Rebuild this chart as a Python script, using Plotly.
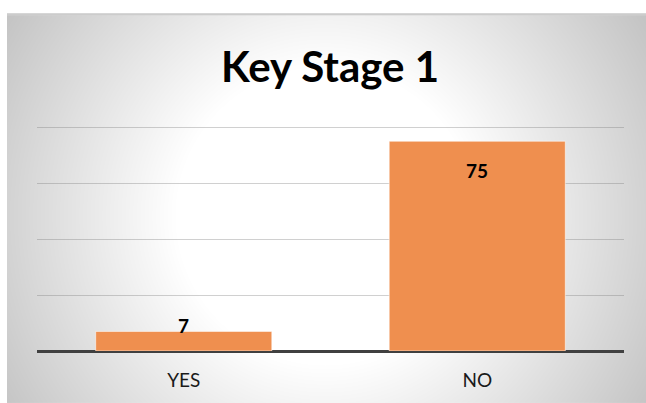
import base64
import struct
import zlib

import numpy as np
import plotly.graph_objects as go

# ---- data ----
categories = ["YES", "NO"]
counts = [7, 75]
title_text = "Key Stage 1"

# ---- page geometry (pixels) ----
FIG_W, FIG_H = 646, 403
Y_MAX_GRID = 80            # last labelled gridline
Y_TOP = 80.8               # a little headroom so the top gridline is not clipped
PX_PER_UNIT = 2.8
M_L, M_R, M_B = 37, 22, 52
PLOT_H = Y_TOP * PX_PER_UNIT
M_T = FIG_H - M_B - PLOT_H
PLOT_W = FIG_W - M_L - M_R

# panel with soft radial shading behind the chart
PANEL_X0, PANEL_Y0 = 7, 13


def radial_panel_png(w, h):
    ys, xs = np.mgrid[0:h, 0:w]
    px = xs + PANEL_X0
    py = ys + PANEL_Y0
    d = np.hypot(px - 325.0, py - 215.0)
    val = 255.0 - np.clip((d - 150.0) * 0.26, 0, 64)
    img = val.astype(np.uint8)
    img[0, :] = 192          # thin top edge of the panel
    img[1, :] = 212
    raw = b"".join(b"\x00" + img[r].tobytes() for r in range(h))

    def chunk(tag, data):
        c = tag + data
        return struct.pack(">I", len(data)) + c + struct.pack(">I", zlib.crc32(c) & 0xFFFFFFFF)

    png = b"\x89PNG\r\n\x1a\n"
    png += chunk(b"IHDR", struct.pack(">IIBBBBB", w, h, 8, 0, 0, 0, 0))
    png += chunk(b"IDAT", zlib.compress(raw, 9))
    png += chunk(b"IEND", b"")
    return "data:image/png;base64," + base64.b64encode(png).decode()


panel_w = FIG_W - PANEL_X0
panel_h = FIG_H - PANEL_Y0
panel_src = radial_panel_png(panel_w, panel_h)


def to_paper_x(px):
    return (px - M_L) / PLOT_W


def to_paper_y(py):
    return (FIG_H - M_B - py) / PLOT_H


fig = go.Figure()
fig.add_trace(go.Bar(
    x=categories,
    y=counts,
    marker=dict(color="#EF8F4F", line=dict(color="rgba(255,255,255,0.55)", width=1)),
    hoverinfo="skip",
))

# value labels: inside the top of tall bars, straddling the top of short ones
for cat, v in zip(categories, counts):
    fig.add_annotation(
        x=cat, y=v, xref="x", yref="y",
        text=f"<b>{v}</b>", showarrow=False,
        yanchor="middle", yshift=(-29 if v > 20 else 6),
        font=dict(family="Lato", size=19, color="#000000"),
    )

fig.add_layout_image(dict(
    source=panel_src,
    xref="paper", yref="paper",
    x=to_paper_x(PANEL_X0), y=to_paper_y(PANEL_Y0),
    sizex=to_paper_x(FIG_W) - to_paper_x(PANEL_X0),
    sizey=to_paper_y(PANEL_Y0) - to_paper_y(FIG_H),
    xanchor="left", yanchor="top",
    sizing="stretch", layer="below",
))

fig.update_layout(
    width=FIG_W, height=FIG_H,
    margin=dict(l=M_L, r=M_R, t=M_T, b=M_B),
    paper_bgcolor="#FFFFFF",
    plot_bgcolor="rgba(0,0,0,0)",
    showlegend=False,
    bargap=0.4,
    title=dict(
        text=title_text,
        x=330 / FIG_W, xref="container", xanchor="center",
        y=1 - 67 / FIG_H, yref="container", yanchor="middle",
        font=dict(family="Lato", size=42, color="#000000", weight=700),
    ),
    xaxis=dict(
        showgrid=False, showline=False, zeroline=False, ticks="",
        tickfont=dict(family="Lato", size=19, color="#1A1A1A"),
        ticklabelstandoff=16,
        fixedrange=True,
    ),
    yaxis=dict(
        range=[0, Y_TOP], tick0=0, dtick=20, showticklabels=False, ticks="",
        showgrid=True, gridcolor="rgba(120,120,120,0.35)", gridwidth=1,
        zeroline=True, zerolinecolor="#404040", zerolinewidth=3,
        showline=False, fixedrange=True,
    ),
)

fig.write_html("out.html")
